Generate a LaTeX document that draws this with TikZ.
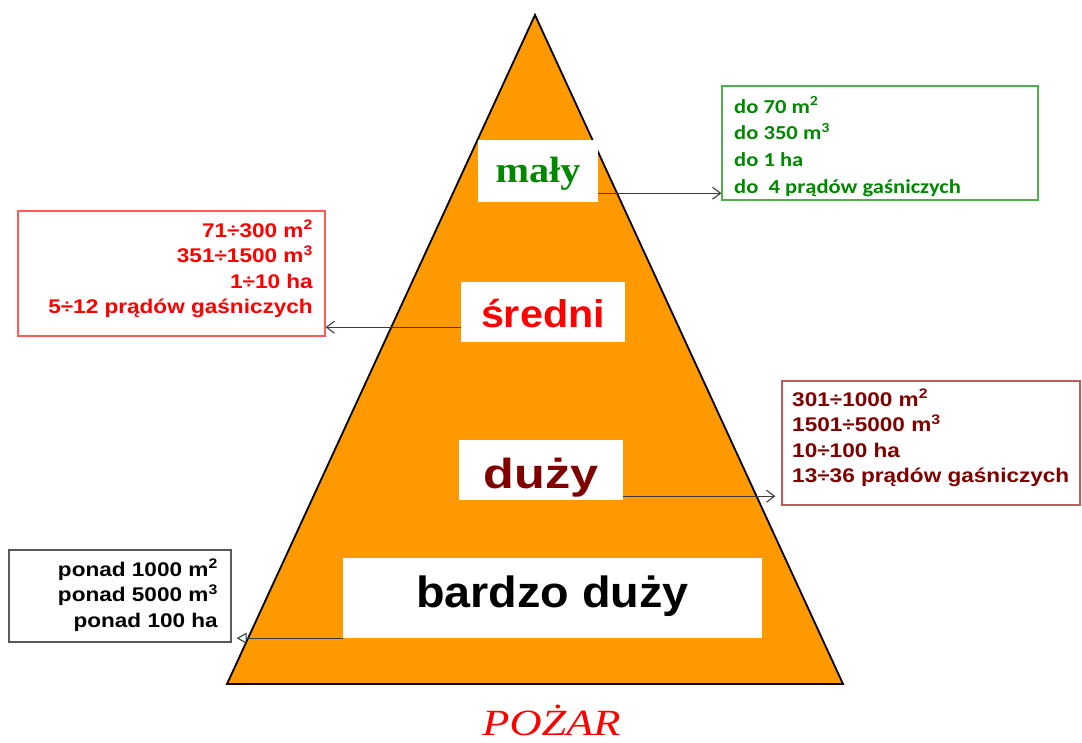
\documentclass[tikz,border=0pt]{standalone}
\usepackage{fontspec}
\usetikzlibrary{arrows.meta}
\newfontfamily\fSmall[FakeStretch=1.14]{Liberation Sans}
\newfontfamily\fCal[FakeStretch=1.14]{Carlito}
\newfontfamily\fMid[FakeStretch=1.07]{Liberation Sans}
\newfontfamily\fDuzy[FakeStretch=1.2]{Liberation Sans}
\newfontfamily\fSerif[FakeStretch=1.1]{Liberation Serif}
\newfontfamily\fTitle[FakeStretch=1.2]{Liberation Serif}
\definecolor{pyorange}{RGB}{255,153,0}
\definecolor{pgreen}{RGB}{0,136,0}
\definecolor{pgreenb}{RGB}{80,175,80}
\definecolor{pred}{RGB}{255,0,0}
\definecolor{predb}{RGB}{255,90,90}
\definecolor{pdark}{RGB}{128,0,0}
\definecolor{pdarkb}{RGB}{190,90,90}
\definecolor{pgrayb}{RGB}{90,90,90}
\definecolor{parrow}{RGB}{60,60,60}
\begin{document}
\begin{tikzpicture}[x=1pt,y=-1pt,
  tri/.style={draw=black, line width=1.8pt, fill=pyorange, line join=miter},
  lblbox/.style={fill=white, draw=none, inner sep=0pt, anchor=base},
  infobox/.style={draw, line width=1.2pt, inner sep=0pt, fill=white},
  infotext/.style={inner sep=0pt},
  smallsans/.style={font={\fSmall\bfseries\fontsize{19.8}{25.4}\selectfont}},
  arr/.style={draw=parrow, line width=1.1pt, -{Straight Barb[length=8pt,width=12pt]}},
  arrT/.style={draw=parrow, line width=1.1pt, -{Triangle[open,length=10pt,width=11pt]}},
]
\useasboundingbox (0,0) rectangle (1082,742);
% pyramid
\coordinate (apex) at (535,15);
\coordinate (bl) at (227,684);
\coordinate (br) at (843,684);
\draw[tri] (apex) -- (br) -- (bl) -- cycle;
% level labels
\node[lblbox, minimum width=120pt, text height=42pt, text depth=20pt,
  font={\fSerif\bfseries\fontsize{36.6}{42}\selectfont}, text=pgreen] (maly) at (538,182) {mały};
\node[lblbox, minimum width=164pt, text height=45pt, text depth=15pt,
  font={\fMid\bfseries\fontsize{38.6}{44}\selectfont}, text=pred] (sredni) at (543,327) {średni};
\node[lblbox, minimum width=164pt, text height=48pt, text depth=12pt,
  font={\fDuzy\bfseries\fontsize{42}{48}\selectfont}, text=pdark] (duzy) at (541,488) {duży};
\node[lblbox, minimum width=419pt, text height=49pt, text depth=31pt,
  font={\fMid\bfseries\fontsize{43.7}{50}\selectfont}, text=black] (bardzo) at (552.5,607) {bardzo duży};
% info boxes
\node[infobox, draw=pgreenb, minimum width=316pt, minimum height=114pt] (gbox) at (880,143) {};
\node[infotext, anchor=north west, align=left, text=pgreen,
  font={\fCal\bfseries\fontsize{19.8}{26.7}\selectfont}] (gtext) at (734,96)
  {\rule{0pt}{17pt}do 70 m\textsuperscript{2}\\ do 350 m\textsuperscript{3}\\ do 1 ha\\ do\ \ 4 prądów gaśniczych};
\node[infobox, draw=predb, minimum width=307pt, minimum height=125pt] (rbox) at (171.5,273.5) {};
\node[infotext, smallsans, anchor=north east, align=right, text=pred] (rtext) at (313,220)
  {\rule{0pt}{17pt}71÷300 m\textsuperscript{2}\\ 351÷1500 m\textsuperscript{3}\\ 1÷10 ha\\ 5÷12 prądów gaśniczych};
\node[infobox, draw=pdarkb, minimum width=298pt, minimum height=124pt] (dbox) at (931,443) {};
\node[infotext, smallsans, anchor=north west, align=left, text=pdark] (dtext) at (792,389)
  {\rule{0pt}{17pt}301÷1000 m\textsuperscript{2}\\ 1501÷5000 m\textsuperscript{3}\\ 10÷100 ha\\ 13÷36 prądów gaśniczych};
\node[infobox, draw=pgrayb, minimum width=222pt, minimum height=92pt] (kbox) at (120,596) {};
\node[infotext, smallsans, anchor=north east, align=right, text=black] (ktext) at (218,559)
  {\rule{0pt}{17pt}ponad 1000 m\textsuperscript{2}\\ ponad 5000 m\textsuperscript{3}\\ ponad 100 ha};
% connectors
\draw[arr] ([yshift=9pt]maly.south east) coordinate (m1) -- (m1 -| gbox.west);
\draw[arr] ([yshift=15pt]sredni.south west) coordinate (s1) -- (s1 -| rbox.east);
\draw[arr, shorten >=6pt] ([yshift=4pt]duzy.south east) coordinate (d1) -- (d1 -| dbox.west);
\draw[arrT, shorten >=5pt] (bardzo.south west) coordinate (b1) -- (b1 -| kbox.east);
% title
\node[anchor=base, inner sep=0pt, text=pred,
  font={\fTitle\itshape\fontsize{37}{44}\selectfont}] (title) at (551.5,735) {POŻAR};
\end{tikzpicture}
\end{document}
